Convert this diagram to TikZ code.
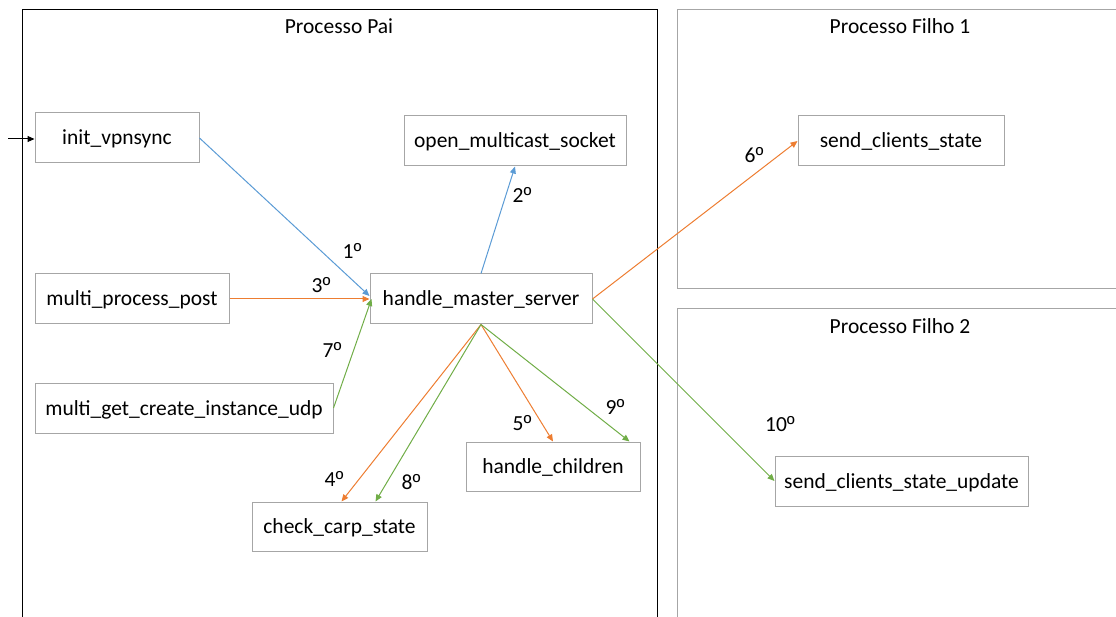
\documentclass[tikz,border=0pt]{standalone}
\usepackage{fontspec}
\setmainfont{Carlito}
\newfontfamily\ordfont{Liberation Sans}
\usetikzlibrary{arrows.meta,calc}
\definecolor{cblue}{HTML}{5B9BD5}
\definecolor{corange}{HTML}{ED7D31}
\definecolor{cgreen}{HTML}{70AD47}
\definecolor{cgrayline}{HTML}{A6A6A6}
\newcommand{\nth}[1]{#1{\ordfont º}}
\begin{document}
\begin{tikzpicture}[x=1pt,y=-1pt,
  every node/.style={font=\fontsize{21.5}{26}\selectfont, inner sep=0pt},
  fn/.style={draw=cgrayline, line width=1pt, fill=white, minimum height=50pt,
    text height=18pt, text depth=4pt},
  region/.style={draw=cgrayline, line width=1pt},
  lbl/.style={text height=16pt, text depth=0pt},
  link/.style={line width=1pt, -{Triangle[length=7pt,width=6pt]}},
  blink/.style={link, cblue},
  olink/.style={link, corange},
  glink/.style={link, cgreen}]
\useasboundingbox (0,0) rectangle (1116,617);

% process regions
\draw[black, line width=1pt] (22,630) |- (657,10) -- (657,630);
\draw[region] (1130,10) -| (677,289) -- (1130,289);
\draw[region] (1130,309) -| (677,630);
\node[text height=16pt, text depth=4pt] (tpai) at (339,28) {Processo Pai};
\node[text height=16pt, text depth=4pt] (tf1) at (900,28) {Processo Filho 1};
\node[text height=16pt, text depth=4pt] (tf2) at (900,328) {Processo Filho 2};

% functions
\node[fn, minimum width=164pt] (ivs) at (117,138) {init\_vpnsync};
\node[fn, minimum width=222pt] (oms) at (515,141) {open\_multicast\_socket};
\node[fn, minimum width=194pt] (mpp) at (132,299) {multi\_process\_post};
\node[fn, minimum width=222pt] (hms) at (481,299) {handle\_master\_server};
\node[fn, minimum width=298pt] (mgc) at (184,408) {multi\_get\_create\_instance\_udp};
\node[fn, minimum width=174pt, minimum height=49pt] (hch) at (553,466.5) {handle\_children};
\node[fn, minimum width=175pt, minimum height=49pt] (ccs) at (339.5,526.5) {check\_carp\_state};
\node[fn, minimum width=206pt] (scs) at (901,141) {send\_clients\_state};
\node[fn, minimum width=253pt] (scu) at (901.5,481) {send\_clients\_state\_update};

% entry
\coordinate (entry) at (8,139);
\draw[line width=1pt, -{Triangle[length=7pt,width=6pt]}] (entry) -- (ivs.west |- entry);

% calls
\draw[blink] (ivs.east) -- ($(hms.west)+(0,-3)$);
\draw[blink] (hms.north) -- (oms.south);
\draw[olink] (mpp.east) -- (hms.west);
\draw[olink] (hms.south) -- ($(ccs.north)+(2,0)$);
\draw[olink] (hms.south) -- (hch.north);
\draw[olink] (hms.east) -- (scs.west);
\draw[glink] (mgc.east) -- ($(hms.west)+(2,0)$);
\draw[glink] (hms.south) -- ($(ccs.north)+(36,0)$);
\draw[glink] (hms.south) -- ($(hch.north east)+(-11,0)$);
\draw[glink] (hms.east) -- (scu.west);

% step numbers
\node[lbl] (n1) at (352,251) {\nth{1}};
\node[lbl] (n2) at (522,195) {\nth{2}};
\node[lbl] (n3) at (321,285) {\nth{3}};
\node[lbl] (n4) at (334,478) {\nth{4}};
\node[lbl] (n5) at (522,422) {\nth{5}};
\node[lbl] (n6) at (754,155) {\nth{6}};
\node[lbl] (n7) at (332,350) {\nth{7}};
\node[lbl] (n8) at (411,481) {\nth{8}};
\node[lbl] (n9) at (615,406) {\nth{9}};
\node[lbl] (n10) at (780,423) {\nth{10}};
\end{tikzpicture}
\end{document}
